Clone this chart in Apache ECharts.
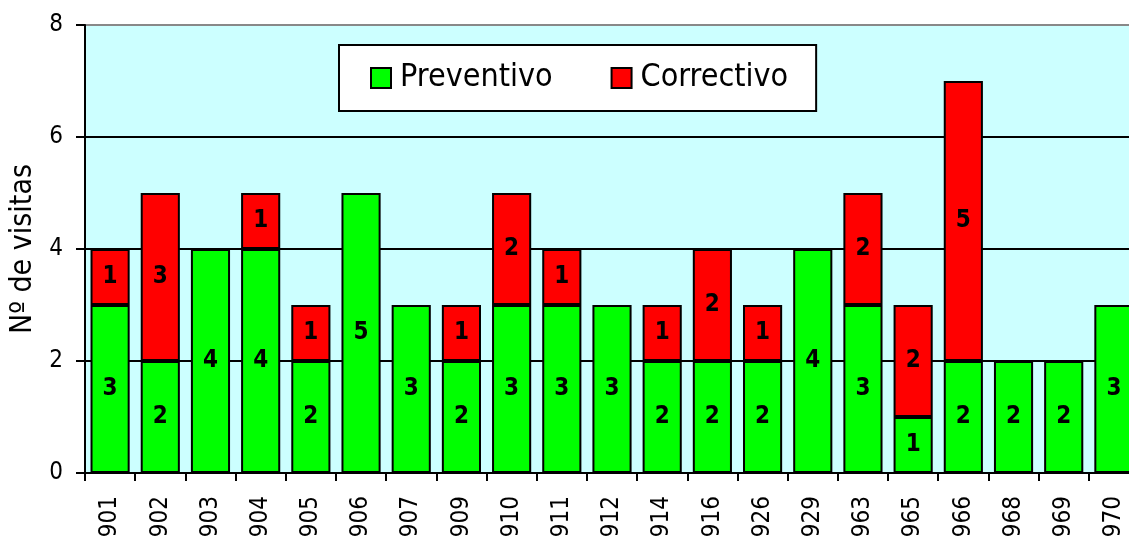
<!DOCTYPE html>
<html lang="es">
<head>
  <meta charset="utf-8">
  <title>Visitas</title>
  <script src="https://cdn.jsdelivr.net/npm/echarts@6/dist/echarts.min.js"></script>
  <style>
    html, body { margin: 0; padding: 0; background: #fff; overflow: hidden; }
    #chart1 { width: 1129px; height: 536px; }
  </style>
</head>
<body>
<div id="chart1"></div>
<script>
  // datos
  var equipos = ['901','902','903','904','905','906','907','909','910','911','912','914','916','926','929','963','965','966','968','969','970'];
  var preventivo = [3,2,4,4,2,5,3,2,3,3,3,2,2,2,4,3,1,2,2,2,3];
  var correctivo = [1,3,0,1,1,0,0,1,2,1,0,1,2,1,0,2,2,5,0,0,0];
  var ticksY = [0, 2, 4, 6, 8];

  var fuente = '"DejaVu Sans Condensed", "DejaVu Sans", sans-serif';

  function sinCeros(arr) {
    return arr.map(function (v) { return v === 0 ? '-' : v; });
  }

  var chart1 = echarts.init(document.getElementById('chart1'));

  var etiqueta = {
    show: true,
    position: 'inside',
    color: '#000',
    fontFamily: fuente,
    fontWeight: 'bold',
    fontSize: 24
  };

  var option = {
    animation: false,
    textStyle: { fontFamily: fuente },
    grid: {
      left: 85, top: 25, width: 1054, bottom: 63,
      outerBoundsMode: 'none',
      containLabel: false,
      show: true,
      backgroundColor: '#ccffff',
      borderWidth: 0
    },
    legend: {
      left: 339, top: 45,
      padding: [17, 28, 17, 31],
      itemGap: 58,
      itemWidth: 20, itemHeight: 20,
      backgroundColor: '#fff',
      borderColor: '#000',
      borderWidth: 2,
      icon: 'rect',
      itemStyle: { borderColor: '#000', borderWidth: 2 },
      textStyle: { fontSize: 32, color: '#000', fontFamily: fuente, padding: [0, 0, 0, 4] },
      data: ['Preventivo', 'Correctivo']
    },
    xAxis: {
      type: 'category',
      data: equipos,
      axisLine: { lineStyle: { color: '#000', width: 2 } },
      axisTick: { show: true, length: 8, lineStyle: { color: '#000', width: 2 } },
      axisLabel: { rotate: 90, fontSize: 24, color: '#000', margin: 23, fontFamily: fuente }
    },
    yAxis: {
      type: 'value',
      min: ticksY[0], max: ticksY[ticksY.length - 1], interval: 2,
      name: 'Nº de visitas',
      nameLocation: 'middle',
      nameRotate: 90,
      nameGap: 47,
      nameMoveOverlap: false,
      nameTextStyle: { fontSize: 30, color: '#000', fontFamily: fuente },
      axisLine: { show: true, lineStyle: { color: '#000', width: 2 } },
      axisTick: { show: true, length: 9, lineStyle: { color: '#000', width: 2 } },
      axisLabel: { fontSize: 24, color: '#000', margin: 22, fontFamily: fuente },
      splitLine: { show: true, lineStyle: { color: ['#000', '#000', '#000', '#000', '#888'], width: 2 } }
    },
    series: [
      {
        name: 'Preventivo',
        type: 'bar',
        stack: 'total',
        barCategoryGap: '22%',
        data: sinCeros(preventivo),
        itemStyle: { color: '#00ff00', borderColor: '#000', borderWidth: 2 },
        label: etiqueta
      },
      {
        name: 'Correctivo',
        type: 'bar',
        stack: 'total',
        data: sinCeros(correctivo),
        itemStyle: { color: '#ff0000', borderColor: '#000', borderWidth: 2 },
        label: etiqueta
      }
    ]
  };
  chart1.setOption(option);
</script>
</body>
</html>
